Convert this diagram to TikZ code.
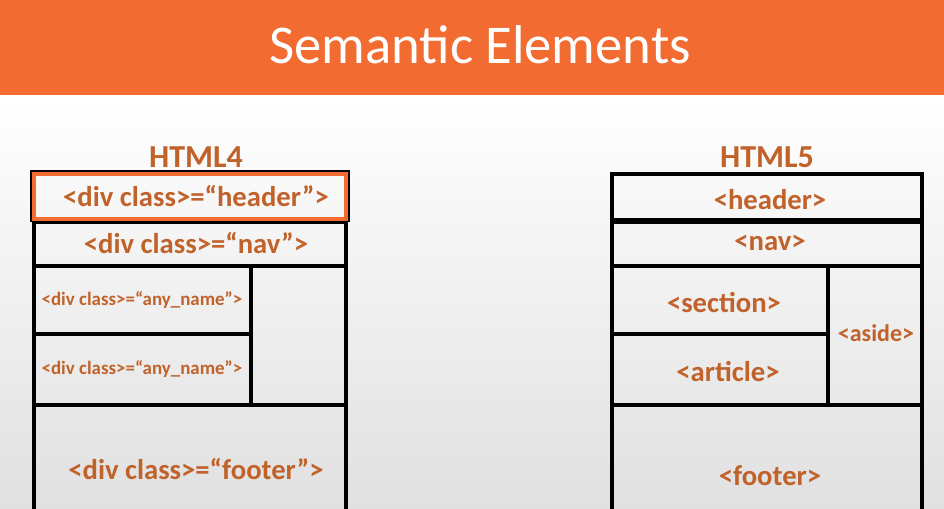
\documentclass[tikz,border=0pt]{standalone}
\usepackage{fontspec}
\setmainfont{Carlito}
\usetikzlibrary{positioning}
\definecolor{banner}{HTML}{F26B31}
\definecolor{tagtext}{HTML}{C0622A}
\begin{document}
\begin{tikzpicture}[x=0.75pt,y=-0.75pt,
    cell/.style={draw=black,line width=3pt},
    tag/.style={text=tagtext,font=\bfseries\fontsize{21.5}{24}\selectfont},
    smalltag/.style={text=tagtext,font=\bfseries\fontsize{14.2}{16}\selectfont},
    heading/.style={text=tagtext,font=\bfseries\fontsize{24}{26}\selectfont}]
  \useasboundingbox (0,0) rectangle (944,508);
  % background and banner
  \shade[top color=white,bottom color=black!12] (0,95) rectangle (944,508);
  \fill[banner] (0,0) rectangle (944,95);
  \node[text=white,font=\fontsize{41}{44}\selectfont] (title) at (480,45) {Semantic Elements};

  % HTML4
  \node[heading] (h4) at (196,157) {HTML4};
  \draw[cell] (32,172) rectangle (348,220);
  \draw[cell] (34,222) rectangle (346,266);
  \draw[cell] (34,266) rectangle (251,334);
  \draw[cell] (34,334) rectangle (251,405);
  \draw[cell] (251,266) rectangle (346,405);
  \draw[cell] (34,405) rectangle (346,520);
  \draw[draw=banner,line width=3pt] (34,174) rectangle (346,219);
  \node[tag] (h4head) at (196,196) {<div class>=“header”>};
  \node[tag] (h4nav) at (196,243) {<div class>=“nav”>};
  \node[smalltag] (h4a) at (142,300) {<div class>=“any\_name”>};
  \node[smalltag] (h4b) at (142,369) {<div class>=“any\_name”>};
  \node[tag] (h4foot) at (196,469) {<div class>=“footer”>};

  % HTML5
  \node[heading] (h5) at (767,157) {HTML5};
  \draw[cell] (612,174) rectangle (922,220);
  \draw[cell] (612,222) rectangle (922,266);
  \draw[cell] (612,266) rectangle (828,334);
  \draw[cell] (612,334) rectangle (828,405);
  \draw[cell] (828,266) rectangle (922,405);
  \draw[cell] (612,405) rectangle (922,520);
  \node[tag] (h5head) at (770,200) {<header>};
  \node[tag] (h5nav) at (770,243) {<nav>};
  \node[tag] (h5sec) at (724,303) {<section>};
  \node[tag] (h5art) at (728,372) {<article>};
  \node[text=tagtext,font=\bfseries\fontsize{18}{20}\selectfont] (h5aside) at (876,333) {<aside>};
  \node[tag] (h5foot) at (770,476) {<footer>};
\end{tikzpicture}
\end{document}
